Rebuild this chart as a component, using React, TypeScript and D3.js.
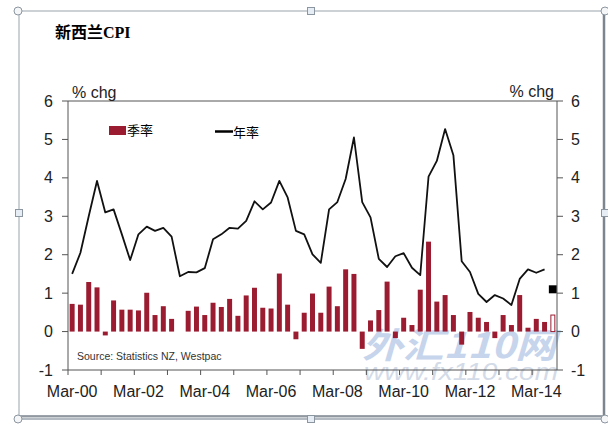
import React from 'react'
import * as d3 from 'd3'

// 季率 (quarterly % change), Mar-00 .. Jun-14
const quarterly = [
	0.72, 0.7, 1.29, 1.15, -0.1, 0.81, 0.57, 0.57, 0.55, 1.01, 0.43, 0.66, 0.33, 0, 0.54,
	0.65, 0.43, 0.75, 0.64, 0.85, 0.41, 0.94, 1.14, 0.62, 0.6, 1.51, 0.7, -0.2, 0.49, 0.99,
	0.49, 1.17, 0.66, 1.62, 1.5, -0.45, 0.29, 0.56, 1.3, -0.17, 0.36, 0.17, 1.09, 2.34, 0.78,
	0.95, 0.43, -0.34, 0.51, 0.36, 0.25, -0.17, 0.43, 0.17, 0.95, 0.1, 0.33, 0.25
]
// 年率 (annual % change), Mar-00 .. Jun-14
const annual = [
	1.5, 2.05, 3.0, 3.92, 3.1, 3.18, 2.53, 1.86, 2.53, 2.73, 2.62, 2.7, 2.47, 1.44, 1.55,
	1.54, 1.65, 2.4, 2.53, 2.7, 2.68, 2.88, 3.39, 3.18, 3.36, 3.92, 3.49, 2.62, 2.53, 2.01,
	1.79, 3.18, 3.37, 3.97, 5.05, 3.37, 2.97, 1.89, 1.68, 1.96, 2.04, 1.66, 1.47, 4.03, 4.44,
	5.27, 4.59, 1.83, 1.55, 0.98, 0.77, 0.95, 0.86, 0.69, 1.37, 1.62, 1.53, 1.62
]
// Westpac forecast for Sep-14
const forecastQuarterly = 0.43
const forecastAnnual = 1.1

const years = d3.range(2000, 2015)
const months = ['Mar', 'Jun', 'Sep', 'Dec']
const quarters = years
	.flatMap((y) => months.map((m) => `${m}-${String(y % 100).padStart(2, '0')}`))
	.slice(0, 59)
const xLabels = ['Mar-00', 'Mar-02', 'Mar-04', 'Mar-06', 'Mar-08', 'Mar-10', 'Mar-12', 'Mar-14']
const yTicks = [-1, 0, 1, 2, 3, 4, 5, 6]

const W = 608
const H = 437
const left = 68
const right = 557
const top = 101
const bottom = 370
const barColor = '#9b1b30'
const axisColor = '#555'
const sans = 'Arial, "Liberation Sans", sans-serif'
const cjk = '"Noto Sans CJK SC", sans-serif'

const App = () => {
	const x = d3
		.scaleBand<string>()
		.domain(quarters)
		.range([left, right])
		.paddingInner(0.4)
		.paddingOuter(0.2)
	const y = d3.scaleLinear().domain([-1, 6]).range([bottom, top])
	const cx = (q: string) => (x(q) as number) + x.bandwidth() / 2
	const stepStart = (q: string) => (x(q) as number) - (x.step() * x.paddingInner()) / 2

	const line = d3
		.line<number>()
		.x((_, i) => cx(quarters[i]))
		.y((d) => y(d))

	const lastQ = quarters[quarters.length - 1]

	return (
		<svg
			width={W}
			height={H}
			style={{ position: 'absolute', left: 0, top: 0, background: '#fff' }}
		>
			{/* 外框 */}
			<rect x={19} y={11} width={585} height={406} fill="none" stroke="#9aa3ad" strokeWidth={1} />
			<line x1={604} x2={604} y1={11} y2={418} stroke="#7d858e" strokeWidth={2.5} />
			<line x1={19} x2={604} y1={416} y2={416} stroke="#7d858e" strokeWidth={1.5} />
			<line x1={19} x2={604} y1={419} y2={419} stroke="#9aa3ad" strokeWidth={1.5} />
			{[
				[18, 11],
				[605, 11],
				[18, 419],
				[605, 419]
			].map(([hx, hy], i) => (
				<circle key={i} cx={hx} cy={hy} r={4} fill="#f4f6f8" stroke="#8c96a0" />
			))}
			{[
				[311, 11],
				[311, 419],
				[19, 213],
				[605, 213]
			].map(([hx, hy], i) => (
				<rect key={i} x={hx - 3.5} y={hy - 3.5} width={7} height={7} fill="#e6edf4" stroke="#8c96a0" />
			))}

			{/* 标题 */}
			<text x={55} y={38} fontSize={16} fontWeight="bold" fontFamily={cjk} fill="#000">
				新西兰<tspan fontFamily='"Liberation Serif", serif'>CPI</tspan>
			</text>

			{/* 水印 */}
			<g opacity={0.5} fill="#8eaadb" fontStyle="italic" fontWeight="bold">
				<text x={362} y={358} fontSize={35} fontFamily={cjk} textLength={194} lengthAdjust="spacingAndGlyphs">
					外汇110网
				</text>
				<text x={364} y={380} fontSize={24} fontFamily={sans} fontWeight="normal" fill="#a9b9d2" textLength={194} lengthAdjust="spacingAndGlyphs">
					www.fx110.com
				</text>
			</g>

			{/* 柱 */}
			{quarterly.map((v, i) => {
				const q = quarters[i]
				return (
					<rect
						key={q}
						x={x(q)}
						y={y(Math.max(0, v))}
						width={x.bandwidth()}
						height={Math.abs(y(v) - y(0))}
						fill={barColor}
					/>
				)
			})}
			<rect
				x={(x(lastQ) as number) + 0.5}
				y={y(forecastQuarterly)}
				width={x.bandwidth() - 1}
				height={y(0) - y(forecastQuarterly)}
				fill="#fff"
				stroke={barColor}
				strokeWidth={1}
			/>

			{/* 线 */}
			<path d={line(annual) || ''} fill="none" stroke="#111" strokeWidth={1.8} strokeLinejoin="round" />
			<rect x={cx(lastQ) - 4} y={y(forecastAnnual) - 4} width={8} height={8} fill="#000" />

			{/* 框与轴 */}
			<line x1={left} x2={right} y1={top} y2={top} stroke={axisColor} />
			<line x1={left} x2={right} y1={bottom} y2={bottom} stroke={axisColor} />
			<line x1={left} x2={left} y1={top} y2={bottom + 5} stroke={axisColor} />
			<line x1={right} x2={right} y1={top} y2={bottom} stroke={axisColor} />
			{yTicks.map((t) => (
				<g key={t}>
					<line x1={left - 6} x2={left} y1={y(t)} y2={y(t)} stroke={axisColor} />
					<line x1={right} x2={right + 6} y1={y(t)} y2={y(t)} stroke={axisColor} />
					<text x={53} y={y(t)} dy="0.35em" textAnchor="end" fontSize={16} fontFamily={sans} fill="#222">
						{t}
					</text>
					<text x={571} y={y(t)} dy="0.35em" fontSize={16} fontFamily={sans} fill="#222">
						{t}
					</text>
				</g>
			))}
			{quarters
				.filter((q, i) => q.startsWith('Mar') && i > 0)
				.map((q) => (
					<line key={q} x1={stepStart(q)} x2={stepStart(q)} y1={bottom} y2={bottom + 5} stroke={axisColor} />
				))}
			{xLabels.map((l) => (
				<text key={l} x={cx(l)} y={397} textAnchor="middle" fontSize={16} fontFamily={sans} fill="#222">
					{l}
				</text>
			))}
			<text x={72} y={98} fontSize={16} fontFamily={sans} fill="#222">
				% chg
			</text>
			<text x={554} y={97} textAnchor="end" fontSize={16} fontFamily={sans} fill="#222">
				% chg
			</text>

			{/* 图例 */}
			<rect x={109} y={126} width={17} height={9} fill={barColor} />
			<text x={127} y={135} fontSize={13} fontFamily={cjk} fill="#000">
				季率
			</text>
			<line x1={215} x2={233} y1={131.5} y2={131.5} stroke="#000" strokeWidth={2.5} />
			<text x={233} y={137} fontSize={13} fontFamily={cjk} fill="#000">
				年率
			</text>

			<text x={77} y={360} fontSize={10.5} fontFamily={sans} fill="#333">
				Source: Statistics NZ, Westpac
			</text>
		</svg>
	)
}

export default App
